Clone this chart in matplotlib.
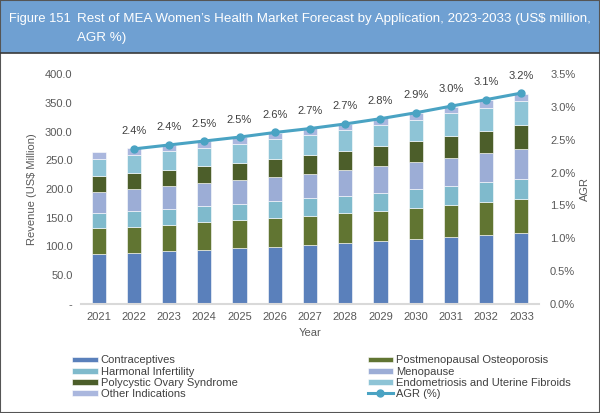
import matplotlib
matplotlib.use("Agg")
import matplotlib.pyplot as plt
from matplotlib.patches import Rectangle
from matplotlib.lines import Line2D
import numpy as np

plt.rcParams['font.family'] = ['Liberation Sans', 'DejaVu Sans']

# data
years = ['2021', '2022', '2023', '2024', '2025', '2026', '2027',
         '2028', '2029', '2030', '2031', '2032', '2033']
contraceptives = [87.0, 89.0, 92.0, 94.5, 97.4, 99.7, 102.6, 106.0, 109.0, 112.5, 116.5, 120.0, 124.0]
postmenopausal = [45.0, 45.5, 46.0, 47.5, 48.1, 49.9, 51.0, 51.7, 52.7, 53.9, 55.1, 57.0, 58.6]
harmonal = [27.0, 27.5, 28.0, 29.0, 28.5, 29.4, 30.2, 30.3, 31.9, 33.6, 33.4, 35.0, 35.4]
menopause = [36.0, 38.0, 39.0, 39.0, 42.0, 42.0, 42.8, 45.6, 46.4, 47.5, 49.5, 50.6, 52.0]
pcos = [27.5, 28.0, 28.6, 29.4, 29.7, 31.0, 32.4, 33.1, 34.8, 36.0, 37.5, 38.8, 40.7]
endometriosis = [29.5, 31.0, 32.0, 32.6, 33.3, 34.4, 35.5, 35.9, 36.2, 36.5, 39.6, 39.6, 42.9]
other = [12.0, 11.5, 11.4, 11.5, 11.5, 11.0, 11.0, 10.5, 12.0, 13.0, 11.4, 14.0, 12.4]
agr_years = years[1:]
agr = [2.36, 2.42, 2.48, 2.54, 2.61, 2.67, 2.74, 2.82, 2.91, 3.01, 3.11, 3.21]

series = [
    ('Contraceptives', contraceptives, '#5a80bb'),
    ('Postmenopausal Osteoporosis', postmenopausal, '#617532'),
    ('Harmonal Infertility', harmonal, '#7fbacc'),
    ('Menopause', menopause, '#9cadd6'),
    ('Polycystic Ovary Syndrome', pcos, '#4c5e2a'),
    ('Endometriosis and Uterine Fibroids', endometriosis, '#8ec4d6'),
    ('Other Indications', other, '#aab7de'),
]
line_color = '#4aa3c3'
text_color = '#404040'

fig = plt.figure(figsize=(6, 4.13), dpi=100)
W, H = 600, 413

# title banner
fig.patches.append(Rectangle((0, 1 - 53 / H), 1, 53 / H, transform=fig.transFigure,
                             facecolor='#6fa0d2', edgecolor='none', zorder=0))
fig.add_artist(Line2D([0, 1], [1 - 53 / H, 1 - 53 / H], transform=fig.transFigure,
                      color='#3a3a3a', lw=1.2))
fig.add_artist(Rectangle((0, 0), 1, 1, transform=fig.transFigure, fill=False,
                         edgecolor='#555555', lw=1.5))
fig.text(9 / W, 1 - 19 / H, 'Figure 151', color='white', fontsize=9.3, va='center')
fig.text(77 / W, 1 - 19 / H,
         "Rest of MEA Women\u2019s Health Market Forecast by Application, 2023-2033 (US$ million,",
         color='white', fontsize=9.6, va='center')
fig.text(77 / W, 1 - 38 / H, 'AGR %)', color='white', fontsize=9.6, va='center')

ax = fig.add_axes([81 / W, 1 - 304 / H, 458 / W, 230 / H])
x = np.arange(len(years))
bottom = np.zeros(len(years))
handles = {}
for name, vals, col in series:
    b = ax.bar(x, vals, 0.4, bottom=bottom, color=col, edgecolor='white',
               linewidth=0.4, label=name)
    handles[name] = b
    bottom += np.array(vals)

ax.set_xlim(-0.5, len(years) - 0.5)
ax.set_ylim(0, 400)
ax.set_yticks(np.arange(0, 401, 50))
ax.set_yticklabels(['-'] + ['%.1f' % v for v in np.arange(50, 401, 50)])
ax.set_xticks(x)
ax.set_xticklabels(years)
for s in ['top', 'right', 'left']:
    ax.spines[s].set_visible(False)
ax.spines['bottom'].set_color('#d9d9d9')
ax.spines['bottom'].set_linewidth(1.5)
ax.tick_params(axis='both', length=0, labelsize=8, colors='#595959', pad=6)
ax.set_ylabel('Revenue (US$ Million)', fontsize=8, color='#595959', labelpad=6)
ax.set_xlabel('Year', fontsize=8, color='#595959', labelpad=4)

ax2 = ax.twinx()
ax2.set_ylim(0, 3.5)
ax2.set_yticks(np.arange(0, 3.51, 0.5))
ax2.set_yticklabels(['%.1f%%' % v for v in np.arange(0, 3.51, 0.5)])
for s in ['top', 'right', 'left', 'bottom']:
    ax2.spines[s].set_visible(False)
ax2.tick_params(axis='y', length=0, labelsize=8, colors='#595959', pad=8)
ax2.set_ylabel('AGR', fontsize=8, color='#595959', labelpad=3)
xa = np.arange(1, len(years))
ln, = ax2.plot(xa, agr, color=line_color, lw=2.2, marker='o', markersize=5,
               label='AGR (%)')
for xi, v in zip(xa, agr):
    ax2.annotate('%.1f%%' % v, (xi, v), xytext=(0, 9), textcoords='offset points',
                 ha='center', va='bottom', fontsize=8, color=text_color)

order = ['Contraceptives', 'Harmonal Infertility', 'Polycystic Ovary Syndrome',
         'Other Indications', 'Postmenopausal Osteoporosis', 'Menopause',
         'Endometriosis and Uterine Fibroids']
hs = [handles[n] for n in order] + [ln]
ls = order + ['AGR (%)']
fig.legend(hs, ls, loc='upper left', bbox_to_anchor=(68 / W, 1 - 351 / H), ncol=2,
           frameon=False, fontsize=8, handlelength=2.3, handleheight=0.45,
           handletextpad=0.25, labelspacing=0.1, columnspacing=11.7,
           borderaxespad=0, labelcolor=text_color)

fig.savefig('out.png', dpi=100)
